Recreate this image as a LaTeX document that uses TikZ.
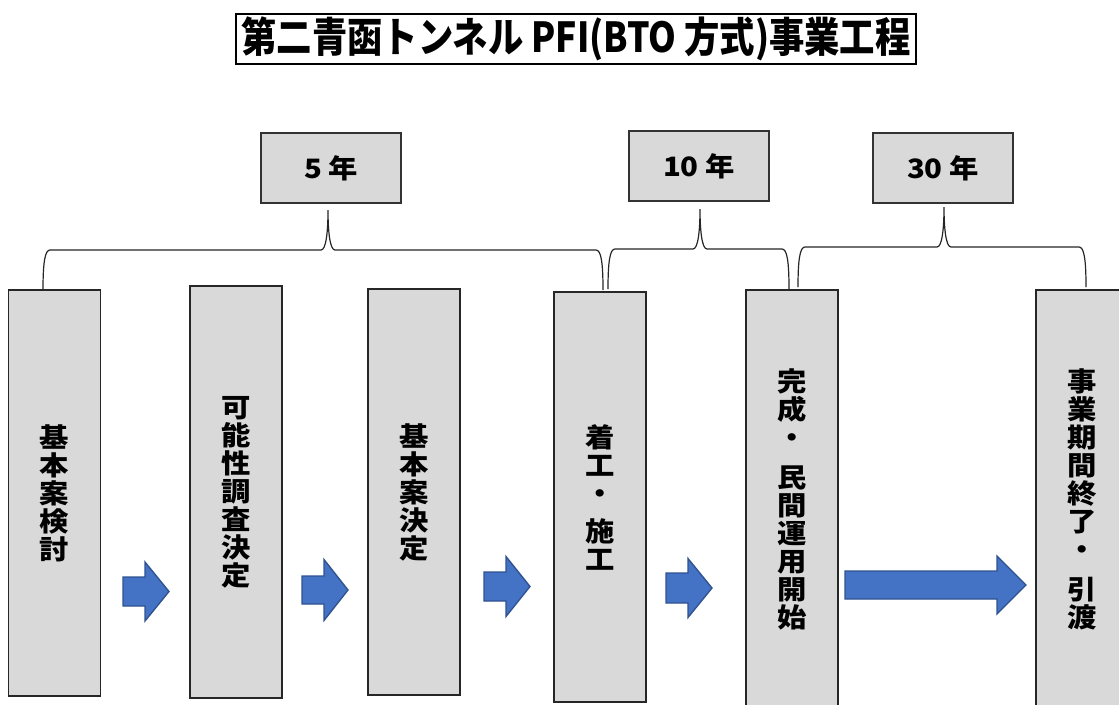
\documentclass[tikz,border=0pt]{standalone}
\usepackage{fontspec}
\usepackage{graphicx}
\newfontfamily\jp{Noto Sans CJK JP}
\newfontfamily\jpw{Noto Sans CJK JP}[FakeStretch=1.1]
\usetikzlibrary{calc}
\definecolor{boxgray}{HTML}{D9D9D9}
\definecolor{arrowblue}{HTML}{4472C4}
\definecolor{arrowedge}{HTML}{2F528F}
\newcommand{\curly}[3]{%
  \draw[bracestyle] (#1) .. controls +(0,-28) and +(-5,0) .. ++(7,-40)
    -- ($(#2)+(-7,40)$) .. controls +(5,0) and +(0,22) .. (#2)
    .. controls +(0,22) and +(-5,0) .. ++(7,40)
    -- ($(#3)+(-7,-40)$) .. controls +(5,0) and +(0,-28) .. (#3);}
\newcommand{\blockarrow}[6]{%
  \filldraw[arrowstyle] ({#1},{#4-#5}) -- ({#2},{#4-#5}) -- ({#2},{#4-#6}) -- ({#3},{#4})
    -- ({#2},{#4+#6}) -- ({#2},{#4+#5}) -- ({#1},{#4+#5}) -- cycle;}
\tikzset{
  stagebox/.style={draw=black!85, line width=1pt, fill=boxgray, inner sep=0pt,
    minimum width=69pt, align=center,
    font=\jpw\bfseries\fontsize{20pt}{21pt}\selectfont},
  yearbox/.style={draw=black!80, line width=1pt, fill=boxgray, inner sep=0pt,
    minimum width=105pt, minimum height=52.5pt,
    font=\jpw\bfseries\fontsize{20pt}{22pt}\selectfont},
  titlebox/.style={draw=black, line width=1.5pt, fill=white, inner sep=0pt,
    minimum width=510pt, minimum height=37.5pt, font=\jp\bfseries\fontsize{31pt}{31pt}\selectfont},
  bracestyle/.style={draw=black!85, line width=0.9pt},
  arrowstyle/.style={fill=arrowblue, draw=arrowedge, line width=1pt, line join=miter}
}
\begin{document}
\setlength{\lineskiplimit}{-10pt}
\begin{tikzpicture}[x=0.75pt,y=-0.75pt]
\useasboundingbox (0,0) rectangle (1119,704);
\fill[white] (0,0) rectangle (1119,704);

% title
\node[titlebox] (title) at (576,39) {\resizebox{502pt}{\height}{第二青函トンネル PFI(BTO 方式)事業工程}};

% year labels
\node[yearbox] (y5) at (331,168) {5 年};
\node[yearbox] (y10) at (699,166) {10 年};
\node[yearbox] (y30) at (943,168) {30 年};

% stage boxes
\node[stagebox, minimum height=304.5pt] (k1) at (54.5,493) {基\\本\\案\\検\\討};
\node[stagebox, minimum height=309pt] (k2) at (236,492) {可\\能\\性\\調\\査\\決\\定};
\node[stagebox, minimum height=304.5pt] (k3) at (414,492) {基\\本\\案\\決\\定};
\node[stagebox, minimum height=307.5pt] (k4) at (600,497) {着\\工\\・\\[7.5pt]施\\工};
\node[stagebox, minimum height=313.5pt] (k5) at (792,499) {完\\成\\・\\[9pt]民\\間\\運\\用\\開\\始};
\node[stagebox, minimum height=313.5pt] (k6) at (1082,499) {事\\業\\期\\間\\終\\了\\・\\[9pt]引\\渡};

% braces
\coordinate (b1L) at (43,290);
\coordinate (b1T) at (328,210);
\coordinate (b1R) at (603,290);
\coordinate (b2L) at (608,289);
\coordinate (b2T) at (700,209);
\coordinate (b2R) at (789,289);
\coordinate (b3L) at (798,287);
\coordinate (b3T) at (944,207);
\coordinate (b3R) at (1086,287);
\curly{b1L}{b1T}{b1R}
\curly{b2L}{b2T}{b2R}
\curly{b3L}{b3T}{b3R}

% block arrows
\blockarrow{123}{145}{169}{591.5}{14.5}{29.5}
\blockarrow{302}{324}{348}{590}{14}{30.5}
\blockarrow{484}{506}{530}{586.5}{14.5}{30}
\blockarrow{666}{688}{712}{588}{15}{29.5}
\blockarrow{845}{997}{1026}{585}{14}{29}
\end{tikzpicture}
\end{document}
